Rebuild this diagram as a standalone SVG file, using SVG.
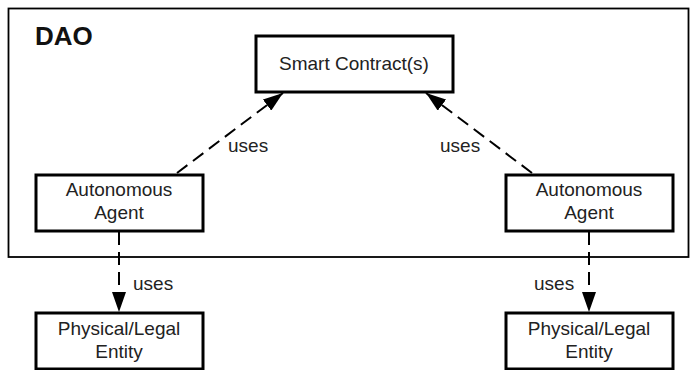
<svg xmlns="http://www.w3.org/2000/svg" width="694" height="370" viewBox="0 0 694 370">
<style>
.box{fill:#fff;stroke:#000;stroke-width:3}
.t{font-family:"Liberation Sans",Arial,sans-serif;font-size:19px;fill:#222;text-anchor:middle}
.lbl{font-family:"Liberation Sans",Arial,sans-serif;font-size:19px;fill:#222}
.c{fill:none;stroke:#000;stroke-width:2;stroke-dasharray:13 7}
</style>
<defs>
<marker id="ah" markerWidth="20" markerHeight="14" refX="20" refY="7" orient="auto" markerUnits="userSpaceOnUse">
<path d="M0,0 L20,7 L0,14 Z" fill="#000"/>
</marker>
</defs>
<rect width="694" height="370" fill="#fff"/>
<g id="dao">
<rect x="8.5" y="8.5" width="680" height="248.5" fill="none" stroke="#000" stroke-width="1.8"/>
<text x="35" y="45" font-family="Liberation Sans,Arial,sans-serif" font-size="26" font-weight="bold" fill="#111">DAO</text>
</g>
<g id="connectors">
<line class="c" x1="177" y1="173" x2="283" y2="93" marker-end="url(#ah)"/>
<line class="c" x1="532" y1="173" x2="426" y2="93" marker-end="url(#ah)"/>
<line class="c" x1="119" y1="232" x2="119" y2="312" marker-end="url(#ah)"/>
<line class="c" x1="589" y1="232" x2="589" y2="312" marker-end="url(#ah)"/>
<text class="lbl" x="228" y="152">uses</text>
<text class="lbl" x="440" y="152">uses</text>
<text class="lbl" x="133" y="290">uses</text>
<text class="lbl" x="534" y="290">uses</text>
</g>
<g id="smart-contract">
<rect class="box" x="256" y="36" width="197" height="56"/>
<text class="t" x="354" y="70">Smart Contract(s)</text>
</g>
<g id="agent-left">
<rect class="box" x="36" y="175" width="167" height="56"/>
<text class="t" x="119" y="196">Autonomous</text>
<text class="t" x="119" y="219">Agent</text>
</g>
<g id="agent-right">
<rect class="box" x="506" y="175" width="167" height="56"/>
<text class="t" x="589" y="196">Autonomous</text>
<text class="t" x="589" y="219">Agent</text>
</g>
<g id="entity-left">
<rect class="box" x="36" y="313" width="167" height="56"/>
<text class="t" x="119" y="335">Physical/Legal</text>
<text class="t" x="119" y="358">Entity</text>
</g>
<g id="entity-right">
<rect class="box" x="506" y="313" width="167" height="56"/>
<text class="t" x="589" y="335">Physical/Legal</text>
<text class="t" x="589" y="358">Entity</text>
</g>
</svg>
